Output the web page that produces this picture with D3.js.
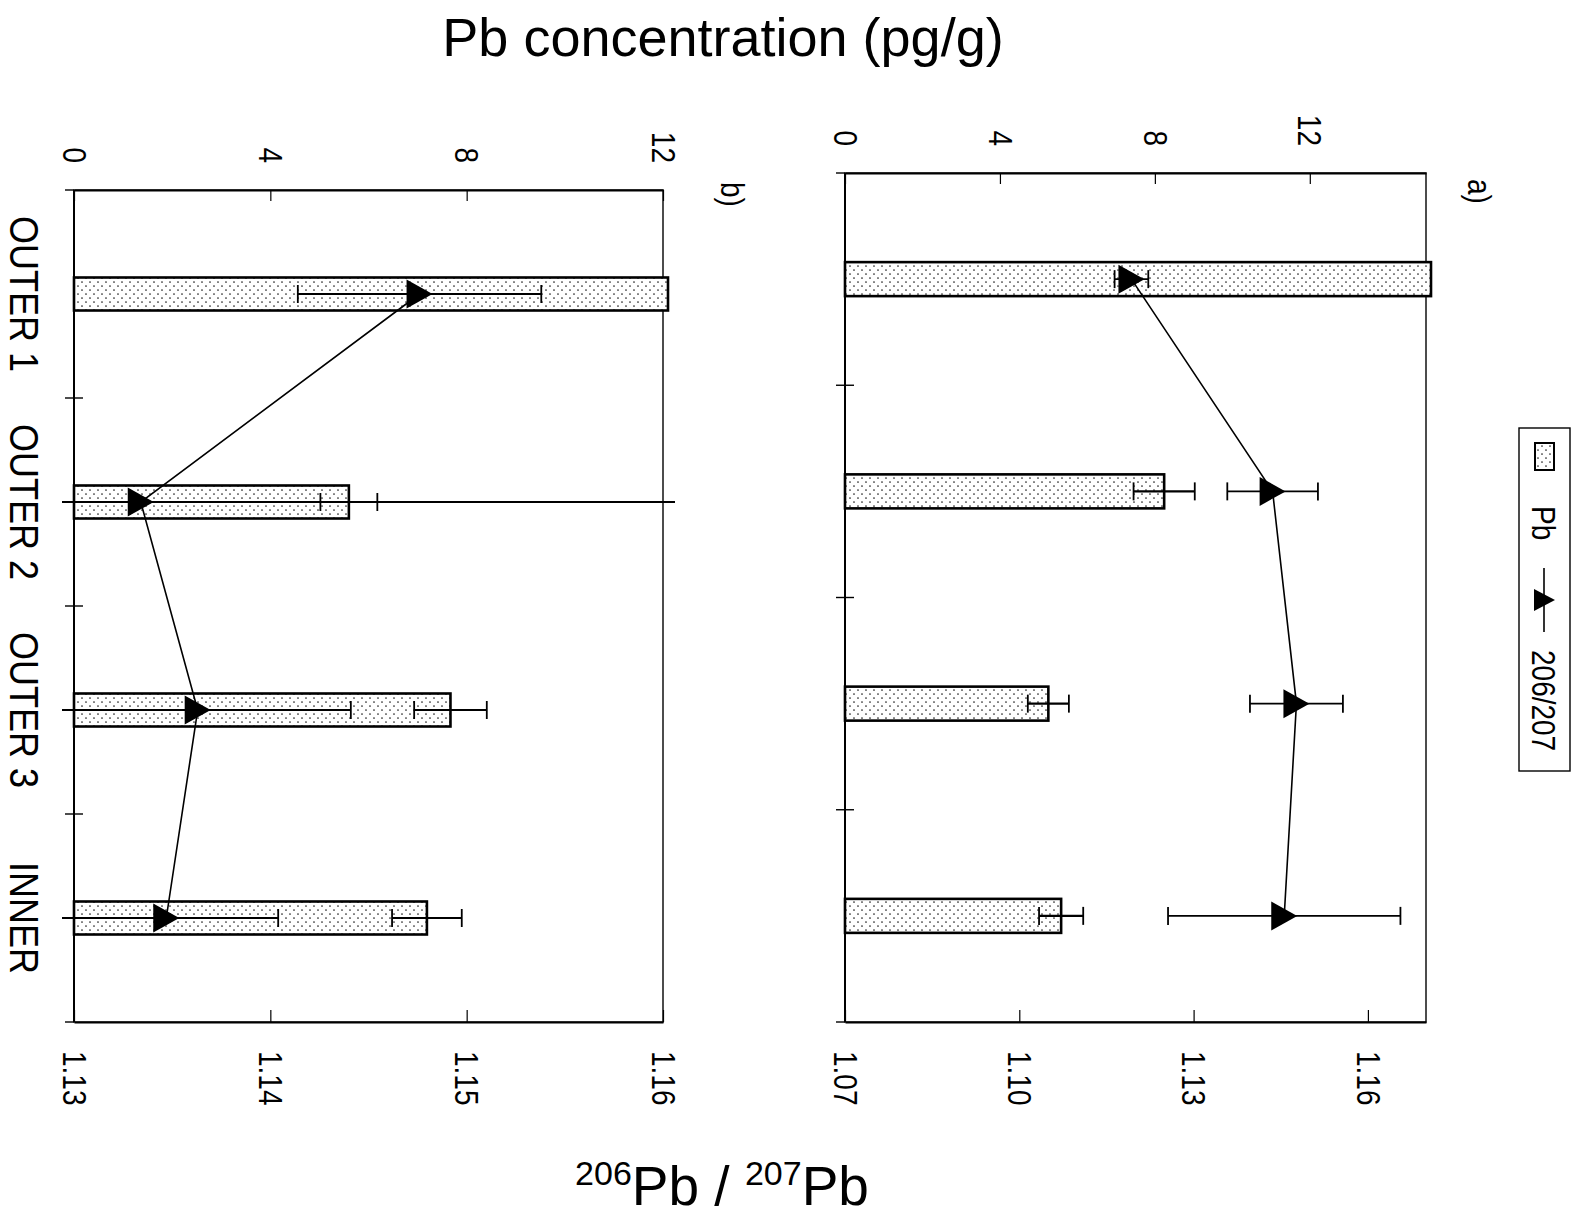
<!DOCTYPE html>
<html><head><meta charset="utf-8">
<script src="https://cdn.jsdelivr.net/npm/d3@7"></script>
<style>
body{margin:0;background:#fff;}
svg{display:block;font-family:"Liberation Sans",Arial,Helvetica,sans-serif;}
text{fill:#000;}
</style>
</head><body>
<svg id="chart" width="1580" height="1220"></svg>
<script>
// ---------- data ----------
const categories = ["OUTER 1", "OUTER 2", "OUTER 3", "INNER"];
const pbTicks = [0, 4, 8, 12];
// panel a
const pbA = [20.0, 8.24, 5.25, 5.58];
const pbErrA = [1.0, 0.79, 0.53, 0.57];
const ratioA = [1.1193, 1.1436, 1.1477, 1.1456];
const ratioErrA = [0.0029, 0.0078, 0.0080, 0.0200];
const ratioTicksA = [1.07, 1.10, 1.13, 1.16];
// panel b
const pbB = [16.0, 5.60, 7.67, 7.19];
const pbErrB = [1.0, 0.58, 0.74, 0.71];
const ratioB = [1.1476, 1.1334, 1.1363, 1.1347];
const ratioErrB = [0.0062, 0.0300, 0.0078, 0.0057];
const ratioTicksB = [1.13, 1.14, 1.15, 1.16];
const legendLabels = ["Pb", "206/207"];
const titleText = "Pb concentration (pg/g)";

// ---------- setup ----------
const svg = d3.select("#chart");
const S = 1.18; // glyph stretch of rotated text
const defs = svg.append("defs");
const pat = defs.append("pattern").attr("id", "dots")
  .attr("width", 8).attr("height", 8).attr("patternUnits", "userSpaceOnUse");
pat.append("rect").attr("width", 8).attr("height", 8).attr("fill", "#fff");
pat.append("circle").attr("cx", 2).attr("cy", 2).attr("r", 0.85).attr("fill", "#222");
pat.append("circle").attr("cx", 6).attr("cy", 6).attr("r", 0.85).attr("fill", "#222");

function vtext(g, x, y, str, size, anchor, dy, stretch) {
  return g.append("text")
    .attr("transform", `translate(${x},${y}) rotate(90) scale(1,${stretch || S})`)
    .attr("text-anchor", anchor)
    .attr("dy", dy)
    .style("font-size", size + "px")
    .text(str);
}

function triPath(s) {
  const w = 13 * s, h = 14.5 * s;
  return `M${-w},${-h}L${w},0L${-w},${h}Z`;
}

const panels = [
  {x0: 845, x1: 1426, y0: 173, y1: 1022, pbMax: 15, rDom: [1.07, 1.17],
   pb: pbA, pbErr: pbErrA, r: ratioA, rErr: ratioErrA, rTicks: ratioTicksA,
   label: "a)", lx: 1468, ly: 179, barH: 34, fmt: d3.format(".2f")},
  {x0: 74, x1: 663, y0: 190, y1: 1022, pbMax: 12, rDom: [1.13, 1.16],
   pb: pbB, pbErr: pbErrB, r: ratioB, rErr: ratioErrB, rTicks: ratioTicksB,
   label: "b)", lx: 721, ly: 182, barH: 33, fmt: d3.format(".2f")}
];

panels.forEach(p => {
  const g = svg.append("g");
  const xPb = d3.scaleLinear().domain([0, p.pbMax]).range([p.x0, p.x1]);
  const xR = d3.scaleLinear().domain(p.rDom).range([p.x0, p.x1]);
  const y = d3.scaleBand().domain(categories).range([p.y0, p.y1]).padding(0);
  const yc = c => y(c) + y.bandwidth() / 2;

  // frame
  g.append("rect").attr("x", p.x0).attr("y", p.y0)
    .attr("width", p.x1 - p.x0).attr("height", p.y1 - p.y0)
    .attr("fill", "none").attr("stroke", "#000").attr("stroke-width", 1.4);

  // bars
  g.selectAll(".bar").data(categories).join("rect")
    .attr("x", p.x0)
    .attr("y", c => yc(c) - p.barH / 2)
    .attr("width", (c, i) => Math.min(xPb(p.pb[i]), p.x1 + 5) - p.x0)
    .attr("height", p.barH)
    .attr("fill", "url(#dots)").attr("stroke", "#000").attr("stroke-width", 2.6);

  const capH = 9;
  function errBar(center, err, scale, yy, sw) {
    const [r0, r1] = scale.range();
    const lo = scale(center - err), hi = scale(center + err);
    if (lo > r1 + 12 || hi < r0 - 12) return;
    const a = Math.max(lo, r0 - 12), b = Math.min(hi, r1 + 12);
    g.append("line").attr("x1", a).attr("x2", b).attr("y1", yy).attr("y2", yy)
      .attr("stroke", "#000").attr("stroke-width", sw);
    [[lo, a], [hi, b]].forEach(([v, w]) => {
      if (v === w) g.append("line").attr("x1", v).attr("x2", v)
        .attr("y1", yy - capH).attr("y2", yy + capH)
        .attr("stroke", "#000").attr("stroke-width", 1.8);
    });
  }

  // Pb error bars
  categories.forEach((c, i) => errBar(p.pb[i], p.pbErr[i], xPb, yc(c), 2.2));

  // ratio line
  const line = d3.line().x((d, i) => xR(d)).y((d, i) => yc(categories[i]));
  g.append("path").attr("d", line(p.r)).attr("fill", "none")
    .attr("stroke", "#000").attr("stroke-width", 1.6);

  // ratio error bars
  categories.forEach((c, i) => errBar(p.r[i], p.rErr[i], xR, yc(c), 1.8));

  // markers
  g.selectAll(".mk").data(p.r).join("path")
    .attr("transform", (d, i) => `translate(${xR(d)},${yc(categories[i])})`)
    .attr("d", triPath(1)).attr("fill", "#000");

  // category ticks (band boundaries)
  d3.range(categories.length + 1).forEach(k => {
    const yy = p.y0 + k * y.step();
    const inner = (k === 0 || k === categories.length) ? 0 : 9;
    g.append("line").attr("x1", p.x0 - 9).attr("x2", p.x0 + inner)
      .attr("y1", yy).attr("y2", yy).attr("stroke", "#000").attr("stroke-width", 1.4);
  });
  g.append("line").attr("x1", p.x0).attr("x2", p.x0).attr("y1", p.y0).attr("y2", p.y1)
    .attr("stroke", "#000").attr("stroke-width", 2);

  // Pb axis (top)
  const axT = g.append("g").attr("transform", `translate(0,${p.y0})`)
    .call(d3.axisTop(xPb).tickValues(pbTicks).tickSizeInner(-11).tickSizeOuter(0).tickFormat(d3.format("d")));
  axT.select(".domain").attr("stroke", "#000").attr("stroke-width", 2);
  axT.selectAll(".tick line").attr("stroke", "#000").attr("stroke-width", 1.2);
  axT.selectAll(".tick text").attr("y", null).attr("dy", null)
    .attr("transform", `translate(0,-27) rotate(90) scale(1,${S})`)
    .attr("text-anchor", "end").attr("dy", "0.358em")
    .style("font-size", "28px");
  axT.attr("font-family", null).attr("font-size", null);

  // ratio axis (bottom)
  const axB = g.append("g").attr("transform", `translate(0,${p.y1})`)
    .call(d3.axisBottom(xR).tickValues(p.rTicks).tickSizeInner(-12).tickSizeOuter(0).tickFormat(p.fmt));
  axB.select(".domain").attr("stroke", "#000").attr("stroke-width", 2);
  axB.selectAll(".tick line").attr("stroke", "#000").attr("stroke-width", 1.2);
  axB.selectAll(".tick text").attr("y", null).attr("dy", null)
    .attr("transform", `translate(0,29) rotate(90) scale(1,${S})`)
    .attr("text-anchor", "start").attr("dy", "0.358em")
    .style("font-size", "28px");
  axB.attr("font-family", null).attr("font-size", null);

  // panel label
  vtext(svg, p.lx, p.ly, p.label, 28, "start", "0");
});

// category labels (left of panel b)
const yLab = d3.scaleBand().domain(categories).range([190, 1022]);
categories.forEach(c => {
  vtext(svg, 10, yLab(c) + yLab.bandwidth() / 2, c, 36, "middle", "0", 1.15);
});

// title
svg.append("text").attr("x", 723).attr("y", 56).attr("text-anchor", "middle")
  .style("font-size", "54px").text(titleText);

// bottom axis title
const at = svg.append("text").attr("x", 722).attr("y", 1205).attr("text-anchor", "middle")
  .style("font-size", "55px").style("white-space", "pre");
at.append("tspan").style("font-size", "34px").attr("dy", -20).text("206");
at.append("tspan").attr("dy", 20).text("Pb / ");
at.append("tspan").style("font-size", "34px").attr("dy", -20).text("207");
at.append("tspan").attr("dy", 20).text("Pb");

// legend
const lg = svg.append("g");
lg.append("rect").attr("x", 1519).attr("y", 428).attr("width", 51).attr("height", 343)
  .attr("fill", "#fff").attr("stroke", "#000").attr("stroke-width", 1.4);
lg.append("rect").attr("x", 1535).attr("y", 443).attr("width", 19).attr("height", 27)
  .attr("fill", "url(#dots)").attr("stroke", "#000").attr("stroke-width", 2);
vtext(lg, 1544, 506, legendLabels[0], 28, "start", "0.358em");
lg.append("line").attr("x1", 1544).attr("x2", 1544).attr("y1", 568).attr("y2", 632)
  .attr("stroke", "#000").attr("stroke-width", 1.6);
lg.append("path").attr("transform", "translate(1544,600)")
  .attr("d", "M-10,-11L11,0L-10,11Z").attr("fill", "#000");
vtext(lg, 1544, 650, legendLabels[1], 28, "start", "0.358em");
</script>
</body></html>
